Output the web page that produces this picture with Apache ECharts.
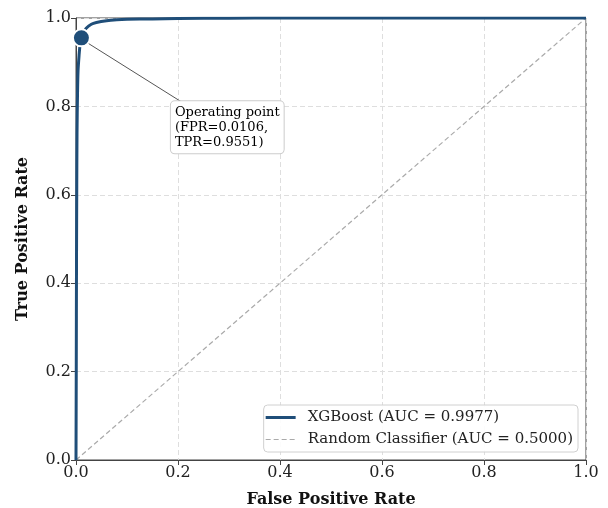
<!DOCTYPE html>
<html>
<head>
<meta charset="utf-8">
<script src="https://cdn.jsdelivr.net/npm/echarts@6/dist/echarts.min.js"></script>
<style>
  html, body { margin: 0; padding: 0; background: #fff; }
  #roc { width: 608px; height: 508px; }
</style>
</head>
<body>
<div id="roc"></div>
<script>
const fpr = [0, 0.0005, 0.001, 0.0015, 0.002, 0.003, 0.004, 0.006, 0.008, 0.0106, 0.014, 0.02, 0.03, 0.04, 0.06, 0.08, 0.1, 0.15, 0.2, 0.3, 0.4, 0.6, 1];
const tpr = [0, 0.2, 0.45, 0.62, 0.74, 0.83, 0.88, 0.915, 0.94, 0.9551, 0.966, 0.977, 0.986, 0.99, 0.994, 0.996, 0.997, 0.998, 0.999, 0.9995, 1, 1, 1];
const chancePts = [[0, 0], [1, 1]];
const opPoint = [0.0106, 0.9551];
const seriesNames = ["XGBoost (AUC = 0.9977)", "Random Classifier (AUC = 0.5000)"];

const font = "DejaVu Serif";
const chart = echarts.init(document.getElementById("roc"));

// legend icons: thin solid line / dashed line (tiny corner dots keep the bounds 30x10)
const solidIcon = "path://M0,0h.01v.01h-.01z M0,3.6h30v2.8h-30z M30,10h.01v.01h-.01z";
const dashIcon = "path://M0,0h.01v.01h-.01z M0,4.4h5v1.2h-5z M8,4.4h5v1.2h-5z M16,4.4h5v1.2h-5z M24,4.4h5v1.2h-5z M30,10h.01v.01h-.01z";

const axisCommon = {
  type: "value", min: 0, max: 1, interval: 0.2,
  nameLocation: "middle",
  nameTextStyle: { fontFamily: font, fontWeight: "bold", fontSize: 16, color: "#111" },
  axisLine: { show: true, onZero: false, lineStyle: { color: "#444", width: 1 } },
  axisTick: { show: true, length: 5, lineStyle: { color: "#444" } },
  axisLabel: { fontFamily: font, fontSize: 16, color: "#222", margin: 5,
    formatter: v => v.toFixed(1) },
  splitLine: { show: true, lineStyle: { color: "#dedede", type: [5, 3] } }
};

const option = {
  animation: false,
  textStyle: { fontFamily: font },
  grid: {
    left: 76, right: 22, top: 18, bottom: 48,
    outerBoundsMode: "none", containLabel: false,
    show: true, borderColor: "#444", borderWidth: 1
  },
  xAxis: Object.assign({}, axisCommon, { name: "False Positive Rate", nameGap: 32 }),
  yAxis: Object.assign({}, axisCommon, { name: "True Positive Rate", nameGap: 45 }),
  legend: {
    right: 30, bottom: 56,
    orient: "vertical",
    backgroundColor: "rgba(255,255,255,0.9)",
    borderColor: "#d0d0d0", borderWidth: 1, borderRadius: 4,
    padding: [5, 5, 5, 2],
    itemGap: 7, itemWidth: 34, itemHeight: 10,
    textStyle: { fontFamily: font, fontSize: 15, color: "#222", padding: [0, 0, 0, 5] },
    data: [
      { name: seriesNames[0], icon: solidIcon },
      { name: seriesNames[1], icon: dashIcon }
    ]
  },
  series: [
    {
      name: seriesNames[0],
      type: "line",
      data: fpr.map((x, i) => [x, tpr[i]]),
      showSymbol: false, symbol: "none",
      smooth: 0.3,
      lineStyle: { color: "#1f4e79", width: 3 },
      itemStyle: { color: "#1f4e79" },
      z: 3
    },
    {
      name: seriesNames[1],
      type: "line",
      data: chancePts,
      showSymbol: false, symbol: "none",
      lineStyle: { color: "#aaaaaa", width: 1.2, type: [5, 3] },
      itemStyle: { color: "#aaaaaa" },
      z: 2
    },
    {
      type: "scatter",
      data: [opPoint],
      symbolSize: 17,
      itemStyle: { color: "#1f4e79", borderColor: "#fff", borderWidth: 2, opacity: 1 },
      z: 5,
      label: {
        show: true,
        position: [99, 73],
        align: "left", verticalAlign: "top",
        formatter: "Operating point\n(FPR=0.0106,\nTPR=0.9551)",
        fontFamily: font, fontSize: 13, lineHeight: 15, color: "#000",
        backgroundColor: "#fff", borderColor: "#cccccc", borderWidth: 1,
        borderRadius: 4, padding: [4, 4, 3, 4]
      },
      markLine: {
        silent: true, symbol: ["none", "none"],
        lineStyle: { color: "#555", width: 1, type: "solid" },
        label: { show: false },
        data: [[{ coord: [0.0235, 0.943] }, { coord: [0.214, 0.805] }]]
      }
    }
  ]
};

chart.setOption(option);
</script>
</body>
</html>
